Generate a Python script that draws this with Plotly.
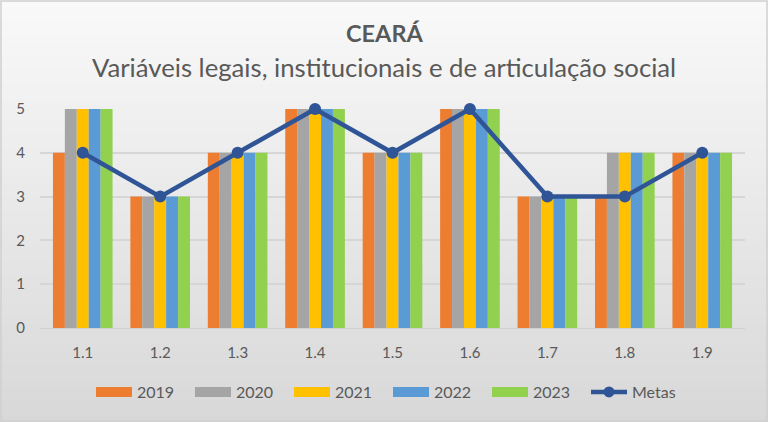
import plotly.graph_objects as go

categories = ["1.1", "1.2", "1.3", "1.4", "1.5", "1.6", "1.7", "1.8", "1.9"]
s2019 = [4, 3, 4, 5, 4, 5, 3, 3, 4]
s2020 = [5, 3, 4, 5, 4, 5, 3, 4, 4]
s2021 = [5, 3, 4, 5, 4, 5, 3, 4, 4]
s2022 = [5, 3, 4, 5, 4, 5, 3, 4, 4]
s2023 = [5, 3, 4, 5, 4, 5, 3, 4, 4]
metas = [4, 3, 4, 5, 4, 5, 3, 3, 4]

series = [("2019", s2019, "#ED7D31"), ("2020", s2020, "#A5A5A5"),
          ("2021", s2021, "#FFC000"), ("2022", s2022, "#5B9BD5"),
          ("2023", s2023, "#92D050")]

W, H = 768, 422
L, R, T, B = 40, 23, 109, 94
pw, ph = W - L - R, H - T - B
cx = (384 - L) / pw

fig = go.Figure()
for name, vals, col in series:
    fig.add_trace(go.Bar(x=categories, y=vals, name=name, marker_color=col,
                         marker_line_width=0, showlegend=False, legendgroup=name))
fig.add_trace(go.Scatter(x=categories, y=metas, name="Metas", mode="lines+markers",
                         line=dict(color="#2F5597", width=4.5),
                         marker=dict(size=12, color="#2F5597"), cliponaxis=False,
                         showlegend=False, legendgroup="Metas"))
# legend entries (wide rectangles like the reference)
for name, vals, col in series:
    fig.add_trace(go.Scatter(x=[None], y=[None], name=name, mode="lines",
                             line=dict(color=col, width=10), legendgroup=name))
fig.add_trace(go.Scatter(x=[None], y=[None], name="Metas", mode="lines+markers",
                         line=dict(color="#2F5597", width=4.5),
                         marker=dict(size=11, color="#2F5597"), legendgroup="Metas"))

# gradient background
shapes = []
n = 60
top = (249, 249, 249)
bot = (216, 216, 216)
for i in range(n):
    f = (i + 0.5) / n
    c = tuple(round(top[k] + (bot[k] - top[k]) * f) for k in range(3))
    y0px = H * i / n
    y1px = H * (i + 1) / n + 1
    shapes.append(dict(type="rect", xref="paper", yref="paper", layer="below",
                       x0=-L / pw, x1=(W - L) / pw,
                       y0=(H - B - y1px) / ph, y1=(H - B - y0px) / ph,
                       fillcolor="rgb(%d,%d,%d)" % c, line_width=0))
shapes.append(dict(type="rect", xref="paper", yref="paper", layer="above",
                   x0=(-L + 1) / pw, x1=(W - L - 1) / pw,
                   y0=(-B + 1) / ph, y1=(H - B - 1) / ph,
                   line=dict(color="#D0D0D0", width=1.5), fillcolor="rgba(0,0,0,0)"))

fig.update_layout(
    width=W, height=H,
    margin=dict(l=L, r=R, t=T, b=B, autoexpand=False),
    paper_bgcolor="#E8E8E8", plot_bgcolor="rgba(0,0,0,0)",
    font=dict(family="Lato", color="#595959", size=14),
    barmode="group", bargap=0.23, bargroupgap=0,
    shapes=shapes,
    annotations=[
        dict(text="<b>CEARÁ</b>", xref="paper", yref="paper", x=cx,
             y=(H - B - 33) / ph, xanchor="center", yanchor="middle",
             showarrow=False, font=dict(size=23.5, color="#595959")),
        dict(text="Variáveis legais, institucionais e de articulação social",
             xref="paper", yref="paper", x=cx, y=(H - B - 67) / ph,
             xanchor="center", yanchor="middle", showarrow=False,
             font=dict(size=25.7, color="#595959")),
    ],
    legend=dict(orientation="h", x=(388 - L) / pw, xanchor="center", y=(H - B - 392) / ph,
                yanchor="middle", font=dict(size=16, color="#595959"),
                bgcolor="rgba(0,0,0,0)", itemwidth=36, traceorder="normal",
                entrywidth=48, itemclick=False, itemdoubleclick=False),
    showlegend=True,
)
fig.update_xaxes(showgrid=False, showline=True, linecolor="#D0D0D0", linewidth=1,
                 ticks="", ticklabelstandoff=11, tickfont=dict(size=15), automargin=False)
fig.update_yaxes(range=[0, 5], dtick=1, showgrid=True, gridcolor="#D6D6D6", gridwidth=1.5,
                 zeroline=False, showline=False, ticks="", ticklabelstandoff=14,
                 tickfont=dict(size=15), automargin=False)

fig.write_html("out.html", config={"displayModeBar": False},
               post_script="document.body.style.margin='0';document.body.style.overflow='hidden';")
